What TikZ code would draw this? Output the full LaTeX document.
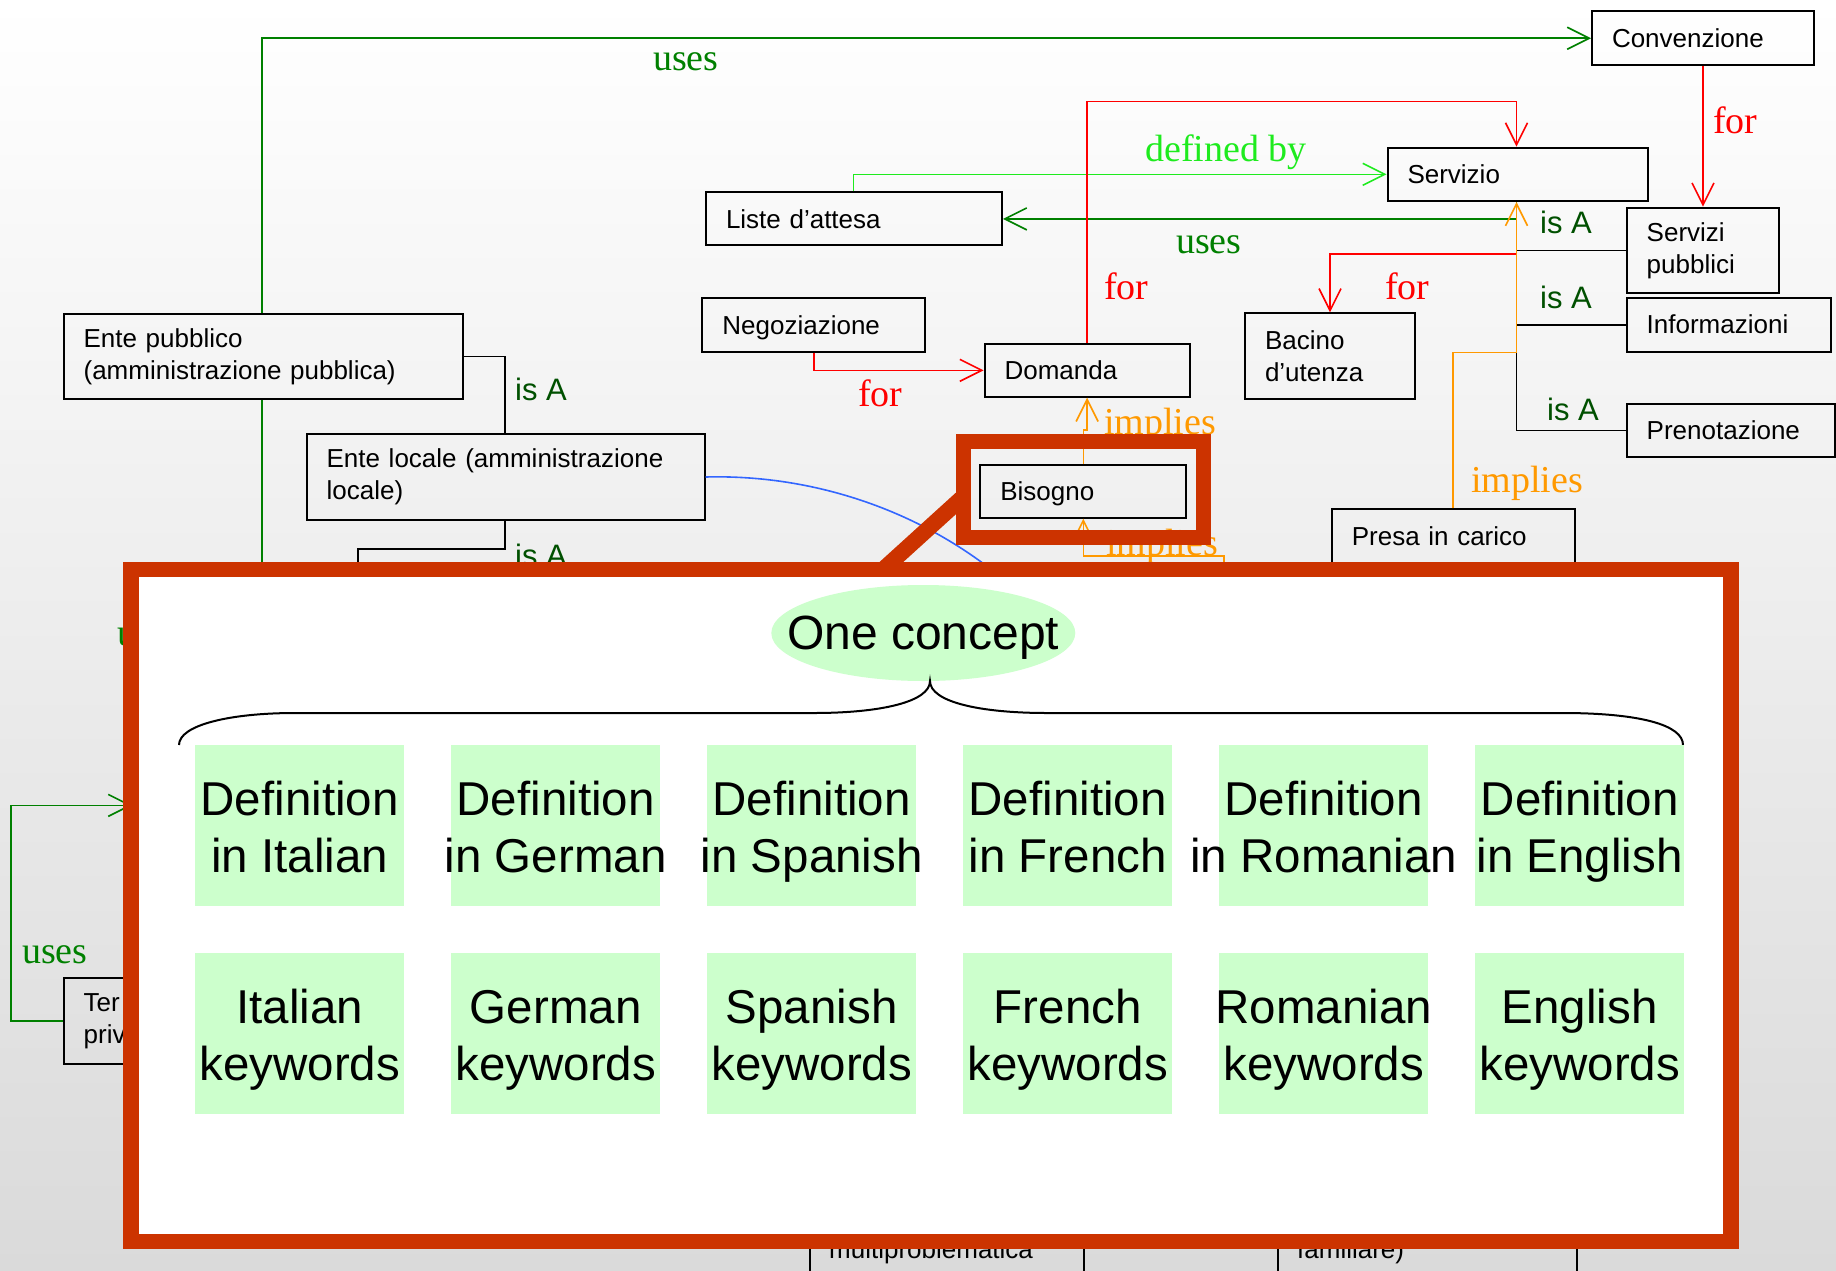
\documentclass[tikz,border=0pt]{standalone}
\usepackage{fontspec}
\setmainfont{Liberation Sans}
\newfontfamily\seriffont{Liberation Serif}
\usetikzlibrary{arrows.meta,shapes.geometric}

\definecolor{usesgreen}{RGB}{0,128,0}
\definecolor{limegreen}{RGB}{30,235,30}
\definecolor{forred}{RGB}{255,0,0}
\definecolor{implorange}{RGB}{255,153,0}
\definecolor{isagreen}{RGB}{0,80,0}
\definecolor{framered}{RGB}{204,51,0}
\definecolor{palegreen}{RGB}{204,255,204}
\definecolor{curveblue}{RGB}{51,102,255}
\definecolor{bgbottom}{RGB}{218,218,218}

\begin{document}
\begin{tikzpicture}[x=1pt,y=-1pt,
  box/.style={draw=black, line width=2pt, anchor=north west, inner xsep=20pt, inner ysep=0pt, align=left, text=black, font=\fontsize{26}{32}\selectfont},
  conn/.style={line width=1.6pt},
  arr/.style={-{Straight Barb[length=22pt,width=22pt]}},
  lab/.style={anchor=base west, inner sep=0pt, font=\seriffont\fontsize{38}{44}\selectfont},
  isa/.style={anchor=base west, inner sep=0pt, text=isagreen, font=\fontsize{31}{36}\selectfont},
  gbox/.style={fill=palegreen, minimum width=209pt, minimum height=160.5pt, anchor=north west, inner sep=0pt},
  gtext/.style={align=center, inner sep=0pt, text=black, font=\fontsize{47.5}{57}\selectfont},
]
\useasboundingbox (0,0) rectangle (1836,1271);
\clip (0,0) rectangle (1836,1271);
\shade[top color=white, bottom color=bgbottom] (0,0) rectangle (1836,1271);

% ---------- boxes ----------
\node[box, text width=182pt,   minimum height=53.5pt] (conv)     at (1591,10.5)  {Convenzione};
\node[box, text width=220.5pt, minimum height=53.4pt] (serv)     at (1386.5,146.6) {Servizio};
\node[box, text width=256pt,   minimum height=53pt]   (liste)    at (705,191.4)  {Liste d’attesa};
\node[box, text width=112.6pt, minimum height=85.3pt] (servpub)  at (1625.7,206.7) {Servizi\\pubblici};
\node[box, text width=164.6pt, minimum height=54pt]   (info)     at (1625.7,296.7) {Informazioni};
\node[box, text width=182.6pt, minimum height=53.6pt, text depth=0pt] (nego) at (701.4,297) {Negoziazione};
\node[box, text width=165pt,   minimum height=52.7pt] (dom)      at (983.6,343)  {Domanda};
\node[box, text width=130pt,   minimum height=85.7pt] (bacino)   at (1244,312.3) {Bacino\\d’utenza};
\node[box, text width=359.4pt, minimum height=85.7pt] (entepub)  at (62.6,312.7) {Ente pubblico\\(amministrazione pubblica)};
\node[box, text width=168.3pt, minimum height=53.3pt] (preno)    at (1625.7,402.7) {Prenotazione};
\node[box, text width=358pt,   minimum height=86pt]   (entelocale) at (305.6,433) {Ente locale (amministrazione\\locale)};
\node[box, text width=166pt,   minimum height=52.7pt, text depth=0pt] (bisogno) at (979.3,464) {Bisogno};
\node[box, text width=202.7pt, minimum height=53.7pt] (presa)    at (1330.8,508.3) {Presa in carico};
\node[box, text width=360pt,   minimum height=86pt]   (terzo)    at (62.7,976.8) {Ter\\priv};
\node[draw=black, line width=2pt, anchor=north west, minimum width=274.3pt, minimum height=150pt, inner sep=0pt] (boxa) at (808.5,1150) {};
\node[draw=black, line width=2pt, anchor=north west, minimum width=298.8pt, minimum height=150pt, inner sep=0pt] (boxb) at (1277,1150) {};
\node[anchor=base west, inner sep=0pt, font=\fontsize{26}{32}\selectfont] (ta) at (829,1258) {multiproblematica};
\node[anchor=base west, inner sep=0pt, font=\fontsize{26}{32}\selectfont] (tb) at (1297,1258) {familiare)};

% ---------- helper coordinates ----------
\coordinate (xA) at (262,0);
\coordinate (hidA) at (262,660);
\coordinate (xT) at (1516.5,0);
\coordinate (xL) at (853.6,0);
\coordinate (rtop) at (1516.5,101.4);
\coordinate (rb) at (1516.5,254);
\coordinate (oj) at (1516.5,352.5);
\coordinate (xE) at (504.7,0);
\coordinate (isAj) at (357.7,549);
\coordinate (hidB) at (357.7,660);
\coordinate (ob) at (1224,660);
\coordinate (ob1) at (1224,556);
\coordinate (gl1) at (10.7,805.4);
\coordinate (gl2) at (132,805.4);
\coordinate (hidC) at (1452,660);
\coordinate (bend) at (1010,585);

% ---------- connectors ----------
% is A (black)
\draw[conn, black] (serv.south -| xT) |- (preno.west);
\draw[conn, black] (servpub.west -| xT) -- (servpub.west);
\draw[conn, black] (info.west -| xT) -- (info.west);
\draw[conn, black] (entepub.east) -| (entelocale.north -| xE);
\draw[conn, black] (entelocale.south -| xE) |- (isAj) -- (hidB);
% uses (dark green)
\draw[conn, usesgreen, arr] (entepub.north -| xA) |- (conv.west);
\draw[conn, usesgreen] (entepub.south -| xA) -- (hidA);
\draw[conn, usesgreen, arr] (serv.south -| xT) |- (liste.east);
\draw[conn, usesgreen, arr] (terzo.west) -| (gl1) -- (gl2);
% defined by (lime)
\draw[conn, limegreen, arr] (liste.north -| xL) |- (serv.west);
% for (red)
\draw[conn, forred, arr] (dom.north) |- (rtop) -- (serv.north -| rtop);
\draw[conn, forred, arr] (conv.south) -- (servpub.north);
\draw[conn, forred, arr] (rb) -| (bacino.north);
\draw[conn, forred, arr] (nego.south) |- (dom.west);
\draw[conn, forred] (presa.south) -- (hidC);
% implies (orange)
\draw[conn, implorange, arr] (presa.north) |- (oj) -- (serv.south -| oj);
\draw[conn, implorange, arr] (bisogno.north) -- ++(0,-34) -| (dom.south);
\draw[conn, implorange, arr] (ob) -- (ob1) -| (bisogno.south);
% blue curve
\draw[conn, curveblue] (entelocale.east) .. controls (820,474) and (930,515) .. (bend);

% ---------- labels ----------
\node[lab, text=usesgreen] (l1) at (653,71) {uses};
\node[lab, text=limegreen] (l2) at (1145,161) {defined by};
\node[lab, text=usesgreen] (l3) at (1176,253) {uses};
\node[lab, text=forred] (l4) at (1104,299) {for};
\node[lab, text=forred] (l5) at (1385,299) {for};
\node[lab, text=forred] (l6) at (1713,133.5) {for};
\node[lab, text=forred] (l7) at (858,406) {for};
\node[lab, text=implorange] (l8) at (1471,492) {implies};
\node[lab, text=implorange] (l9) at (1104,434) {implies};
\node[lab, text=implorange] (l10) at (1106,555) {implies};
\node[lab, text=usesgreen] (l11) at (22,963) {uses};
\node[lab, text=usesgreen] (l12) at (117,645) {uses};
\node[isa] (i1) at (1540,233) {is A};
\node[isa] (i2) at (1540,308) {is A};
\node[isa] (i3) at (1547,420) {is A};
\node[isa] (i4) at (515,400) {is A};
\node[isa] (i5) at (515,566) {is A};

% ---------- highlight ----------
\draw[framered, line width=16pt] (963,497) -- (882.6,570);
\draw[framered, line width=15pt] (963,441.3) rectangle (1203.3,537);
\draw[framered, line width=15.5pt, fill=white] (131,569.5) rectangle (1731,1241.5);

% ---------- overlay content ----------
\node[ellipse, fill=palegreen, minimum width=304pt, minimum height=96pt, inner sep=0pt] (concept) at (923.3,633) {};
\node[inner sep=0pt, text depth=0pt, font=\fontsize{48}{56}\selectfont] (concepttext) at (concept.center) {One concept};
\coordinate (tip) at (930,681);
\draw[line width=2pt, black] (179,745) .. controls (179,725) and (230,713) .. (295,713) -- (814,713) .. controls (880,713) and (930,702) .. (tip) .. controls (930,702) and (980,713) .. (1047,713) -- (1562,713) .. controls (1640,713) and (1683,725) .. (1683,745);

\foreach \i/\lang/\kw in {0/Italian/Italian, 1/German/German, 2/Spanish/Spanish, 3/French/French, 4/Romanian/Romanian, 5/English/English}{
  \node[gbox] (d\i) at (195+256*\i,745) {};
  \node[gbox] (k\i) at (195+256*\i,953) {};
  \node[gtext] (dt\i) at ([yshift=-7pt]d\i.center) {\strut Definition\\in \lang\strut};
  \node[gtext] (kt\i) at ([yshift=-7pt]k\i.center) {\strut \kw\\keywords\strut};
}
\end{tikzpicture}
\end{document}
